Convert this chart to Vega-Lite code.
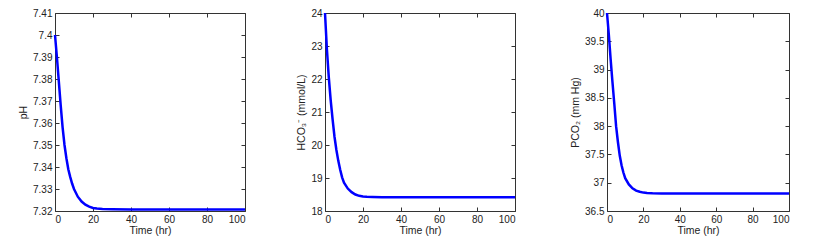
{
  "$schema": "https://vega.github.io/schema/vega-lite/v6.json",
  "background": "white",
  "padding": {"left": 18, "top": 7, "right": 5, "bottom": 5},
  "config": {
    "view": {"stroke": "#333", "strokeWidth": 1},
    "axis": {"domain": false, "grid": false, "tickSize": -4, "tickColor": "#333", "labelPadding": 7,
      "labelFont": "Liberation Sans", "labelFontSize": 10, "labelColor": "#222",
      "titleFont": "Liberation Sans", "titleFontSize": 10.5, "titleFontWeight": "normal", "titleColor": "#222"},
    "axisX": {"titlePadding": 1}
  },
  "datasets": {
    "sim": [
      {"t": 0, "pH": 7.4, "hco3": 24.0, "pco2": 40.0},
      {"t": 1, "pH": 7.39, "hco3": 22.9, "pco2": 39.62},
      {"t": 2, "pH": 7.379, "hco3": 22.05, "pco2": 39.18},
      {"t": 3, "pH": 7.368, "hco3": 21.35, "pco2": 38.78},
      {"t": 4, "pH": 7.358, "hco3": 20.78, "pco2": 38.4},
      {"t": 5, "pH": 7.35, "hco3": 20.25, "pco2": 38.0},
      {"t": 6, "pH": 7.344, "hco3": 19.85, "pco2": 37.72},
      {"t": 7, "pH": 7.339, "hco3": 19.52, "pco2": 37.48},
      {"t": 8, "pH": 7.3355, "hco3": 19.25, "pco2": 37.31},
      {"t": 9, "pH": 7.3325, "hco3": 19.02, "pco2": 37.18},
      {"t": 10, "pH": 7.33, "hco3": 18.86, "pco2": 37.08},
      {"t": 12, "pH": 7.3265, "hco3": 18.68, "pco2": 36.97},
      {"t": 14, "pH": 7.3243, "hco3": 18.57, "pco2": 36.9},
      {"t": 16, "pH": 7.3229, "hco3": 18.5, "pco2": 36.86},
      {"t": 18, "pH": 7.322, "hco3": 18.46, "pco2": 36.84},
      {"t": 20, "pH": 7.3214, "hco3": 18.44, "pco2": 36.825},
      {"t": 22, "pH": 7.3211, "hco3": 18.43, "pco2": 36.818},
      {"t": 25, "pH": 7.3209, "hco3": 18.425, "pco2": 36.814},
      {"t": 30, "pH": 7.3208, "hco3": 18.42, "pco2": 36.811},
      {"t": 40, "pH": 7.3207, "hco3": 18.42, "pco2": 36.81},
      {"t": 60, "pH": 7.3207, "hco3": 18.42, "pco2": 36.81},
      {"t": 80, "pH": 7.3207, "hco3": 18.42, "pco2": 36.81},
      {"t": 100, "pH": 7.3207, "hco3": 18.42, "pco2": 36.81}
    ]
  },
  "bounds": "flush",
  "spacing": 80,
  "hconcat": [
    {
      "width": 190, "height": 198,
      "data": {"name": "sim"},
      "resolve": {"axis": {"x": "independent", "y": "independent"}},
      "layer": [
        {"mark": {"type": "line", "color": "#0000ff", "strokeWidth": 2.5},
         "encoding": {
           "x": {"field": "t", "type": "quantitative", "scale": {"domain": [0, 100], "nice": false},
                 "axis": {"orient": "bottom", "values": [0, 20, 40, 60, 80, 100], "title": "Time (hr)"}},
           "y": {"field": "pH", "type": "quantitative", "scale": {"domain": [7.32, 7.41], "nice": false, "zero": false},
                 "axis": {"orient": "left", "values": [7.32, 7.33, 7.34, 7.35, 7.36, 7.37, 7.38, 7.39, 7.4, 7.41], "format": ".2~f", "title": "pH"}}
         }},
        {"mark": {"type": "line", "opacity": 0},
         "encoding": {
           "x": {"field": "t", "type": "quantitative", "axis": {"orient": "top", "values": [0, 20, 40, 60, 80, 100], "labels": false, "title": null}},
           "y": {"field": "pH", "type": "quantitative", "axis": {"orient": "right", "values": [7.32, 7.33, 7.34, 7.35, 7.36, 7.37, 7.38, 7.39, 7.4, 7.41], "labels": false, "title": null}}
         }}
      ]
    },
    {
      "bounds": "flush",
      "spacing": 92,
      "hconcat": [
        {
          "width": 190, "height": 198,
          "data": {"name": "sim"},
          "resolve": {"axis": {"x": "independent", "y": "independent"}},
          "layer": [
            {"mark": {"type": "line", "color": "#0000ff", "strokeWidth": 2.5},
             "encoding": {
               "x": {"field": "t", "type": "quantitative", "scale": {"domain": [0, 100], "nice": false},
                     "axis": {"orient": "bottom", "values": [0, 20, 40, 60, 80, 100], "title": "Time (hr)"}},
               "y": {"field": "hco3", "type": "quantitative", "scale": {"domain": [18, 24], "nice": false, "zero": false},
                     "axis": {"orient": "left", "values": [18, 19, 20, 21, 22, 23, 24], "title": "HCO₃⁻ (mmol/L)"}}
             }},
            {"mark": {"type": "line", "opacity": 0},
             "encoding": {
               "x": {"field": "t", "type": "quantitative", "axis": {"orient": "top", "values": [0, 20, 40, 60, 80, 100], "labels": false, "title": null}},
               "y": {"field": "hco3", "type": "quantitative", "axis": {"orient": "right", "values": [18, 19, 20, 21, 22, 23, 24], "labels": false, "title": null}}
             }}
          ]
        },
        {
          "width": 182, "height": 198,
          "data": {"name": "sim"},
          "resolve": {"axis": {"x": "independent", "y": "independent"}},
          "layer": [
            {"mark": {"type": "line", "color": "#0000ff", "strokeWidth": 2.5},
             "encoding": {
               "x": {"field": "t", "type": "quantitative", "scale": {"domain": [0, 100], "nice": false},
                     "axis": {"orient": "bottom", "values": [0, 20, 40, 60, 80, 100], "title": "Time (hr)"}},
               "y": {"field": "pco2", "type": "quantitative", "scale": {"domain": [36.5, 40], "nice": false, "zero": false},
                     "axis": {"orient": "left", "values": [36.5, 37, 37.5, 38, 38.5, 39, 39.5, 40], "format": ".1~f", "title": "PCO₂ (mm Hg)"}}
             }},
            {"mark": {"type": "line", "opacity": 0},
             "encoding": {
               "x": {"field": "t", "type": "quantitative", "axis": {"orient": "top", "values": [0, 20, 40, 60, 80, 100], "labels": false, "title": null}},
               "y": {"field": "pco2", "type": "quantitative", "axis": {"orient": "right", "values": [36.5, 37, 37.5, 38, 38.5, 39, 39.5, 40], "labels": false, "title": null}}
             }}
          ]
        }
      ]
    }
  ]
}
